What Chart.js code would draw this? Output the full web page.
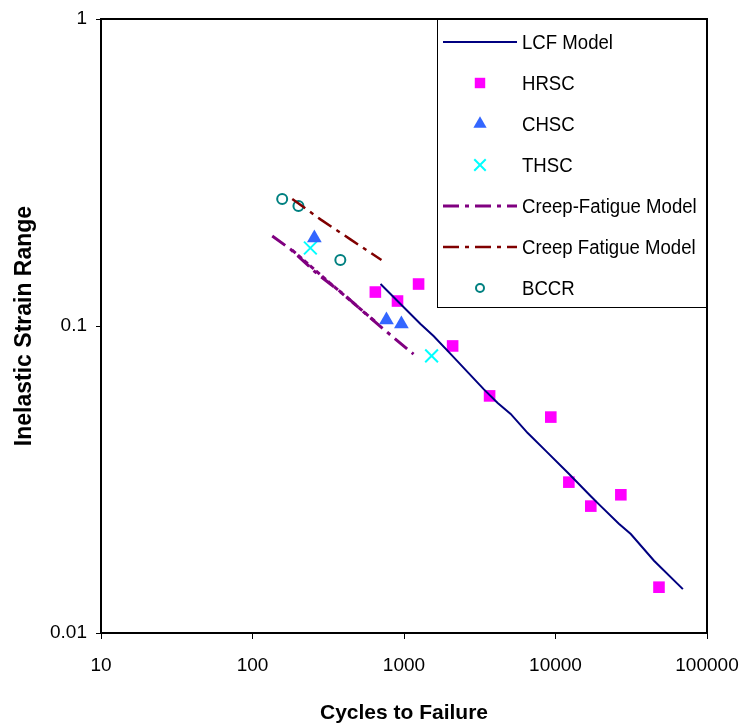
<!DOCTYPE html>
<html>
<head>
<meta charset="utf-8">
<script src="https://cdn.jsdelivr.net/npm/chart.js@4/dist/chart.umd.min.js"></script>
<style>
  html, body { margin: 0; padding: 0; background: #fff; }
  #wrap { width: 741px; height: 726px; }
</style>
</head>
<body>
<div id="wrap"><canvas id="fatigueChart" width="741" height="726"></canvas></div>
<script>
// values
const xTicks = [10, 100, 1000, 10000, 100000];
const yTicks = [0.01, 0.1, 1];

const lcfCycles = [700, 1285, 1567, 2028, 3356, 4153, 5058, 6556, 8630, 12250, 17100, 19900, 26200, 31400, 44700, 69300];
const lcfStrain = [0.137, 0.1015, 0.0928, 0.0811, 0.0623, 0.0561, 0.0517, 0.0448, 0.0392, 0.0330, 0.0279, 0.0259, 0.0227, 0.0210, 0.0172, 0.0139];

const hrscCycles = [647, 906, 1248, 2094, 3672, 9310, 12250, 17100, 27000, 48200];
const hrscStrain = [0.129, 0.1206, 0.137, 0.0861, 0.0592, 0.0505, 0.031, 0.0259, 0.0282, 0.0141];

const chscCycles = [256, 766, 961];
const chscStrain = [0.1935, 0.1046, 0.1015];

const thscCycles = [241, 1521];
const thscStrain = [0.1795, 0.0799];

const cfCycles = [135, 178, 268, 398, 600, 906, 1156];
const cfStrain = [0.1964, 0.178, 0.1477, 0.1271, 0.1062, 0.0894, 0.0810];
const cfDupCycles = [182, 324, 662];
const cfDupStrain = [0.177, 0.138, 0.1023];

const cf2Cycles = [183, 281, 443, 710];
const cf2Strain = [0.2594, 0.2225, 0.1915, 0.164];

const bccrCycles = [157, 201, 380];
const bccrStrain = [0.259, 0.246, 0.164];

const pts = (xs, ys) => xs.map((x, i) => ({ x: x, y: ys[i] }));
const dashDot = [16, 6, 4, 6];
const font = '"Liberation Sans", Arial, sans-serif';

const datasets = [
  { label: 'LCF Model', data: pts(lcfCycles, lcfStrain), showLine: true, borderColor: '#000080', borderWidth: 2, pointRadius: 0, legend: true },
  { label: 'HRSC', data: pts(hrscCycles, hrscStrain), pointStyle: 'rect', pointRadius: 8.2, backgroundColor: '#ff00ff', borderColor: '#ff00ff', borderWidth: 0, legend: true },
  { label: 'CHSC', data: pts(chscCycles, chscStrain), pointStyle: 'triangle', pointRadius: 8.5, backgroundColor: '#3366ff', borderColor: '#3366ff', borderWidth: 0, legend: true },
  { label: 'THSC', data: pts(thscCycles, thscStrain), pointStyle: 'crossRot', pointRadius: 9, backgroundColor: '#00ffff', borderColor: '#00ffff', borderWidth: 2, legend: true },
  { label: 'Creep-Fatigue Model', data: pts(cfCycles, cfStrain), showLine: true, borderColor: '#800080', borderWidth: 3, borderDash: dashDot, pointRadius: 0, legend: true },
  { label: '', data: pts(cfDupCycles, cfDupStrain), showLine: true, borderColor: '#800080', borderWidth: 3, borderDash: [5, 3], pointRadius: 0, legend: false },
  { label: 'Creep Fatigue Model', data: pts(cf2Cycles, cf2Strain), showLine: true, borderColor: '#800000', borderWidth: 2.5, borderDash: dashDot, pointRadius: 0, legend: true },
  { label: 'BCCR', data: pts(bccrCycles, bccrStrain), pointStyle: 'circle', pointRadius: 5, backgroundColor: 'rgba(0,0,0,0)', borderColor: '#008080', borderWidth: 2, legend: true }
];

// frame on top/right of plot area and the boxed legend
const framePlugin = {
  id: 'frame',
  afterDraw(chart) {
    const ctx = chart.ctx;
    const a = chart.chartArea;
    ctx.save();
    ctx.strokeStyle = '#000';

    // legend box
    const bx = 437, by = a.top, bw = a.right - 437, bh = 307 - a.top;
    ctx.fillStyle = '#fff';
    ctx.fillRect(bx, by, bw, bh);
    ctx.lineWidth = 1;
    ctx.strokeRect(bx + 0.5, by, bw, bh + 0.5);

    ctx.lineWidth = 2;
    ctx.beginPath();
    ctx.moveTo(a.left, a.top);
    ctx.lineTo(a.right, a.top);
    ctx.lineTo(a.right, a.bottom);
    ctx.stroke();

    const items = chart.data.datasets.filter(d => d.legend);
    items.forEach((d, i) => {
      const y = 42 + i * 41;
      ctx.save();
      if (d.showLine) {
        ctx.strokeStyle = d.borderColor;
        ctx.lineWidth = d.borderWidth;
        ctx.setLineDash(d.borderDash || []);
        ctx.beginPath();
        ctx.moveTo(443, y);
        ctx.lineTo(517, y);
        ctx.stroke();
      } else {
        ctx.fillStyle = d.backgroundColor;
        ctx.strokeStyle = d.borderColor;
        ctx.lineWidth = d.borderWidth;
        Chart.helpers.drawPoint(ctx, {
          pointStyle: d.pointStyle,
          radius: d.pointStyle === 'circle' ? 4 : d.pointRadius * 0.9,
          rotation: 0,
          borderWidth: d.borderWidth
        }, 480, y);
      }
      ctx.restore();
      // legend text is a little condensed in the original
      ctx.save();
      ctx.translate(522, y + 1);
      ctx.scale(0.93, 1);
      ctx.fillStyle = '#000';
      ctx.font = '20px ' + font;
      ctx.textAlign = 'left';
      ctx.textBaseline = 'middle';
      ctx.fillText(d.label, 0, 0);
      ctx.restore();
    });
    ctx.restore();
  }
};

new Chart(document.getElementById('fatigueChart'), {
  type: 'scatter',
  data: { datasets },
  plugins: [framePlugin],
  options: {
    responsive: false,
    animation: false,
    layout: { padding: { top: 19, right: 34, left: 0, bottom: 0 } },
    plugins: { legend: { display: false }, tooltip: { enabled: false } },
    scales: {
      x: {
        type: 'logarithmic',
        min: 10,
        max: 100000,
        afterBuildTicks: s => { s.ticks = xTicks.map(v => ({ value: v })); },
        afterFit: s => { s.height = 93; s.paddingLeft = 0; s.paddingRight = 0; },
        grid: { display: true, drawOnChartArea: false, drawTicks: true, tickLength: 6, color: '#000' },
        border: { display: true, color: '#000', width: 2 },
        ticks: { color: '#000', padding: 15, maxRotation: 0, font: { family: font, size: 19 }, callback: v => String(v) },
        title: { display: true, text: 'Cycles to Failure', color: '#000', padding: { bottom: 0, top: 0 }, font: { family: font, size: 21, weight: 'bold' } }
      },
      y: {
        type: 'logarithmic',
        min: 0.01,
        max: 1,
        afterBuildTicks: s => { s.ticks = yTicks.map(v => ({ value: v })); },
        afterFit: s => { s.width = 101; s.paddingTop = 0; s.paddingBottom = 0; },
        grid: { display: true, drawOnChartArea: false, drawTicks: true, tickLength: 5, color: '#000' },
        border: { display: true, color: '#000', width: 2 },
        ticks: { color: '#000', padding: 9, font: { family: font, size: 19 }, callback: v => String(v) },
        title: { display: true, text: 'Inelastic Strain Range', color: '#000', padding: { top: 11, bottom: 0 }, font: { family: font, size: 23, weight: 'bold' } }
      }
    }
  }
});
</script>
</body>
</html>
